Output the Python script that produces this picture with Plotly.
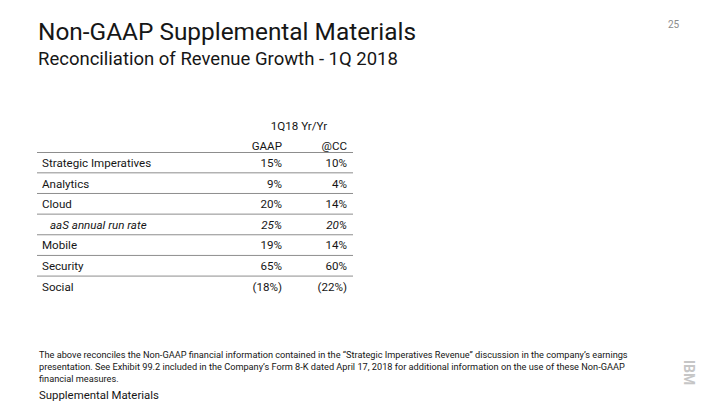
import plotly.graph_objects as go

title = "Non-GAAP Supplemental Materials"
subtitle = "Reconciliation of Revenue Growth - 1Q 2018"
page_number = "25"
group_header = "1Q18 Yr/Yr"
col_headers = ["GAAP", "@CC"]
categories = ["Strategic Imperatives", "Analytics", "Cloud", "aaS annual run rate",
              "Mobile", "Security", "Social"]
gaap_values = ["15%", "9%", "20%", "25%", "19%", "65%", "(18%)"]
cc_values = ["10%", "4%", "14%", "20%", "14%", "60%", "(22%)"]
italic_rows = [False, False, False, True, False, False, False]
footnote = ("The above reconciles the Non-GAAP financial information contained in the \u201cStrategic Imperatives Revenue\u201d discussion in the company\u2019s earnings<br>"
            "presentation. See Exhibit 99.2 included in the Company\u2019s Form 8-K dated April 17, 2018 for additional information on the use of these Non-GAAP<br>"
            "financial measures.")
footer = "Supplemental Materials"

FONT = "Roboto"
TEXT = "#161616"
W, H = 720, 405

# layout geometry (pixels)
left = 37
label_x = 42
gaap_x = 282
cc_x = 347
table_right = 353
row0_y = 162.5
row_h = 20.65
header_y = 146
group_y = 126
TS = 11.6
text_dy = 1.5

fig = go.Figure()

row_y = [row0_y + i * row_h for i in range(len(categories))]
txt_y = [y + text_dy for y in row_y]
labels = [f"<i>{c}</i>" if it else c for c, it in zip(categories, italic_rows)]
label_xs = [label_x + 8 if it else label_x for it in italic_rows]
gaap_txt = [f"<i>{v}</i>" if it else v for v, it in zip(gaap_values, italic_rows)]
cc_txt = [f"<i>{v}</i>" if it else v for v, it in zip(cc_values, italic_rows)]

fig.add_trace(go.Scatter(x=label_xs, y=txt_y, mode="text", text=labels,
                         textposition="middle right",
                         textfont=dict(family=FONT, size=TS, color=TEXT),
                         hoverinfo="skip", showlegend=False))
fig.add_trace(go.Scatter(x=[gaap_x] * len(txt_y), y=txt_y, mode="text", text=gaap_txt,
                         textposition="middle left",
                         textfont=dict(family=FONT, size=TS, color=TEXT),
                         hoverinfo="skip", showlegend=False))
fig.add_trace(go.Scatter(x=[cc_x] * len(txt_y), y=txt_y, mode="text", text=cc_txt,
                         textposition="middle left",
                         textfont=dict(family=FONT, size=TS, color=TEXT),
                         hoverinfo="skip", showlegend=False))
# column headers
fig.add_trace(go.Scatter(x=[gaap_x, cc_x], y=[header_y + 1, header_y + 1], mode="text", text=col_headers,
                         textposition="middle left",
                         textfont=dict(family=FONT, size=TS, color=TEXT),
                         hoverinfo="skip", showlegend=False))
fig.add_trace(go.Scatter(x=[(270 + 328) / 2], y=[group_y + 1], mode="text", text=[group_header],
                         textposition="middle center",
                         textfont=dict(family=FONT, size=TS, color=TEXT),
                         hoverinfo="skip", showlegend=False))

# row separators: below header and each row except the last
sep_y = [header_y + 6.5] + [y + row_h / 2 for y in row_y[:-1]]
for y in sep_y:
    fig.add_shape(type="line", x0=left, x1=table_right, y0=y, y1=y, xref="x", yref="y",
                  line=dict(color="#8d8d8d", width=1))

annotations = [
    dict(x=left - 1, y=31, text=title, xanchor="left", yanchor="middle",
         font=dict(family=FONT, size=24.4, color=TEXT)),
    dict(x=left - 1, y=59, text=subtitle, xanchor="left", yanchor="middle",
         font=dict(family=FONT, size=18.5, color=TEXT)),
    dict(x=682, y=24, text=page_number, xanchor="right", yanchor="middle",
         font=dict(family=FONT, size=10, color="#8c8c8c")),
    dict(x=left, y=366, text=footnote, xanchor="left", yanchor="middle", align="left",
         font=dict(family=FONT, size=9.2, color=TEXT)),
    dict(x=left, y=395, text=footer, xanchor="left", yanchor="middle",
         font=dict(family=FONT, size=11.4, color=TEXT)),
    dict(x=689, y=372, text="<b>IBM</b>", xanchor="center", yanchor="middle", textangle=90,
         font=dict(family=FONT, size=14, color="#c6c6c6")),
]
for a in annotations:
    a.update(xref="x", yref="y", showarrow=False)

fig.update_layout(
    width=W, height=H, margin=dict(l=0, r=0, t=0, b=0),
    paper_bgcolor="white", plot_bgcolor="white",
    xaxis=dict(range=[0, W], visible=False, fixedrange=True),
    yaxis=dict(range=[H, 0], visible=False, fixedrange=True),
    annotations=annotations, showlegend=False,
)

fig.write_html("out.html", post_script="document.body.style.margin='0';",
               config={"displayModeBar": False})
